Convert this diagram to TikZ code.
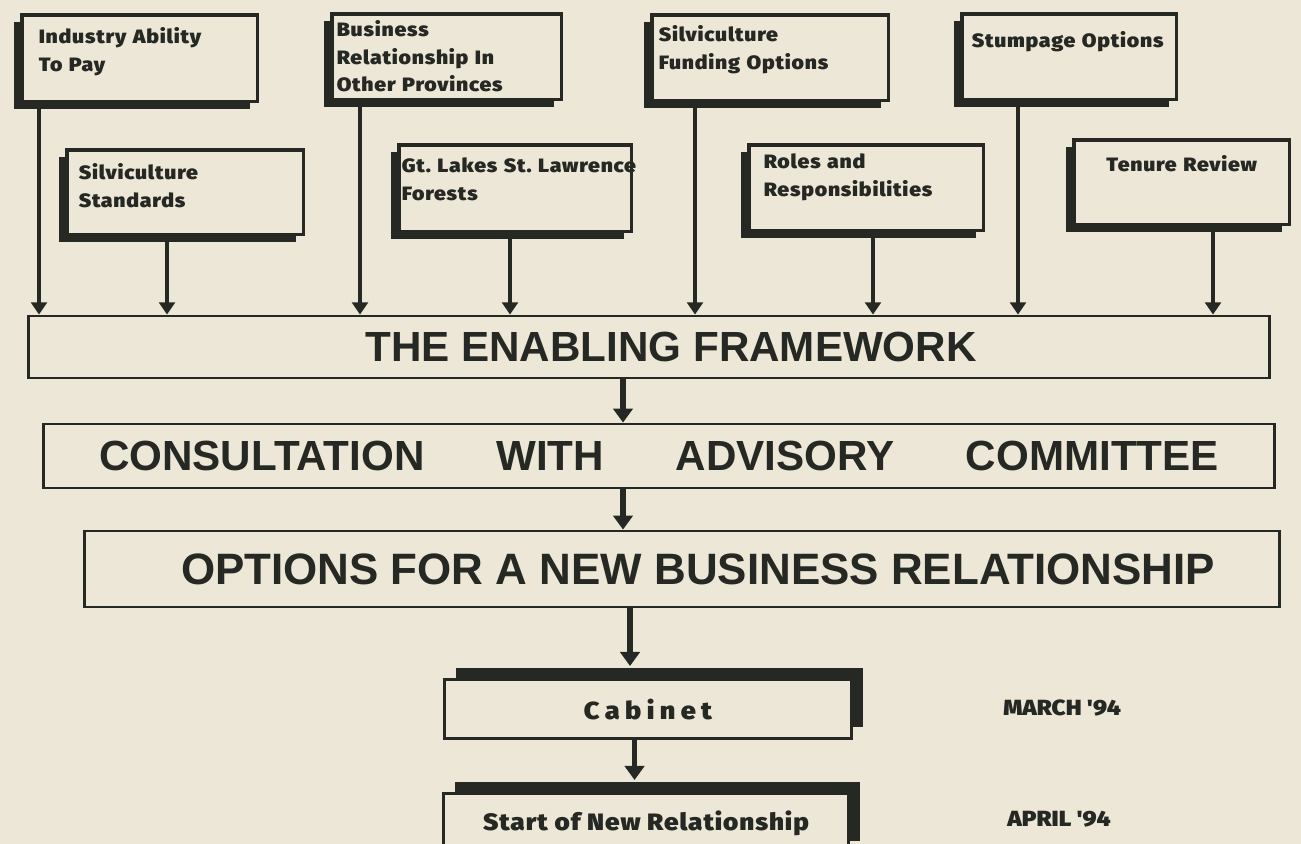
\documentclass[tikz,border=0pt]{standalone}
\usepackage{fontspec}
\setmainfont{Liberation Sans}
\newfontfamily\heavyfont[FakeStretch=1.1]{Fira Sans Black}
\newfontfamily\bigfont{Liberation Sans Bold}
\usetikzlibrary{arrows.meta,shadows}
\frenchspacing

\definecolor{paper}{HTML}{ECE7D6}
\definecolor{ink}{HTML}{262824}

\tikzset{
  % small boxes feeding the framework: text hangs from the top, shadow to the lower left
  topbox/.style 2 args={draw=ink, fill=paper, text=ink, line width=2pt, anchor=north west,
    align=left, inner ysep=0pt, text height=#1, text depth=#2,
    font=\heavyfont\fontsize{11}{15.6}\selectfont\addfontfeature{LetterSpace=4},
    drop shadow={shadow xshift=-0.16cm, shadow yshift=-0.15cm, fill=ink, opacity=1}},
  bar/.style={draw=ink, fill=paper, text=ink, line width=1.6pt, inner sep=0pt,
    font=\bigfont\fontsize{24}{28}\selectfont},
  stepbox/.style={draw=ink, fill=paper, text=ink, line width=1.8pt, anchor=north west,
    inner sep=0pt, font=\heavyfont\fontsize{13.5}{16}\selectfont\addfontfeature{LetterSpace=4},
    drop shadow={shadow xshift=0.22cm, shadow yshift=0.24cm, fill=ink, opacity=1}},
  when/.style={text=ink, anchor=base west, inner sep=0pt, font=\heavyfont\fontsize{12.5}{14}\selectfont},
  feed/.style={draw=ink, line width=2.4pt, -{Triangle[width=9pt,length=7pt]}},
  flow/.style={draw=ink, line width=3.2pt, -{Triangle[width=11pt,length=8pt]}},
}

\begin{document}
\begin{tikzpicture}[x=0.02cm,y=-0.02cm]
\fill[paper] (0,0) rectangle (1301,844);
\useasboundingbox (0,0) rectangle (1301,844);

% first row
\node[topbox={0.58cm}{1.16cm}, text width=4.04cm, inner xsep=0.34cm] (ind) at (20,13) {Industry Ability\\To Pay};
\node[topbox={0.46cm}{1.26cm}, text width=4.4cm, inner xsep=0.1cm] (bus) at (330,12) {Business\\Relationship In\\Other Provinces};
\node[topbox={0.54cm}{1.18cm}, text width=4.46cm, inner xsep=0.14cm] (fund) at (650,13) {Silviculture\\Funding Options};
\node[topbox={0.68cm}{1.04cm}, text width=3.9cm, inner xsep=0.2cm] (stump) at (960,12) {\mbox{Stumpage Options}};

% second row
\node[topbox={0.6cm}{1.1cm}, text width=4.26cm, inner xsep=0.24cm] (std) at (65,148) {Silviculture\\Standards};
\node[topbox={0.56cm}{1.18cm}, text width=4.54cm, inner xsep=0.06cm] (glk) at (397,143) {\mbox{Gt. Lakes St. Lawrence}\\Forests};
\node[topbox={0.48cm}{1.24cm}, text width=4.1cm, inner xsep=0.3cm] (role) at (747,143) {Roles and\\Responsibilities};
\node[topbox={0.64cm}{1.06cm}, text width=3.92cm, inner xsep=0.2cm, align=center] (ten) at (1072,138) {Tenure Review};

% the long bars
\node[bar, minimum width=24.84cm, minimum height=1.24cm] (fw) at (649,347) {\hspace*{0.88cm}THE ENABLING FRAMEWORK};
\node[bar, minimum width=24.64cm, minimum height=1.28cm] (cons) at (659,456)
  {\makebox[22.4cm]{CONSULTATION\hfill WITH\hfill ADVISORY\hfill COMMITTEE}};
\node[bar, minimum width=23.9cm, minimum height=1.52cm, font=\bigfont\fontsize{25}{28}\selectfont] (opt) at (682,569) {\hspace*{0.64cm}OPTIONS FOR A NEW BUSINESS RELATIONSHIP};

% decision steps and dates
\node[stepbox, minimum width=8.14cm, minimum height=1.18cm] (cab) at (443,678) {\fontsize{14}{16}\selectfont\addfontfeature{LetterSpace=22}Cabinet};
\node[stepbox, minimum width=8.1cm, minimum height=1.18cm] (go) at (442,792) {Start of New Relationship};
\node[when] (mar) at (1003,715) {MARCH '94};
\node[when] (apr) at (1007,826) {APRIL '94};

% feeds into the framework
\foreach \b/\dx in {ind/19, std/102, bus/30, glk/113, fund/45, role/126, stump/58, ten/141}
  \draw[feed] (\b.south west) ++(\dx,0) coordinate (p) -- (p |- fw.north);

\draw[flow] ([xshift=-0.52cm]fw.south) coordinate (m1) -- (m1 |- cons.north);
\draw[flow] ([xshift=-0.72cm]cons.south) coordinate (m2) -- (m2 |- opt.north);
\draw[flow, shorten >=0.24cm] ([xshift=-1.04cm]opt.south) coordinate (m3) -- (m3 |- cab.north);
\draw[flow, shorten >=0.24cm] ([xshift=-0.27cm]cab.south) coordinate (m4) -- (m4 |- go.north);
\end{tikzpicture}
\end{document}
